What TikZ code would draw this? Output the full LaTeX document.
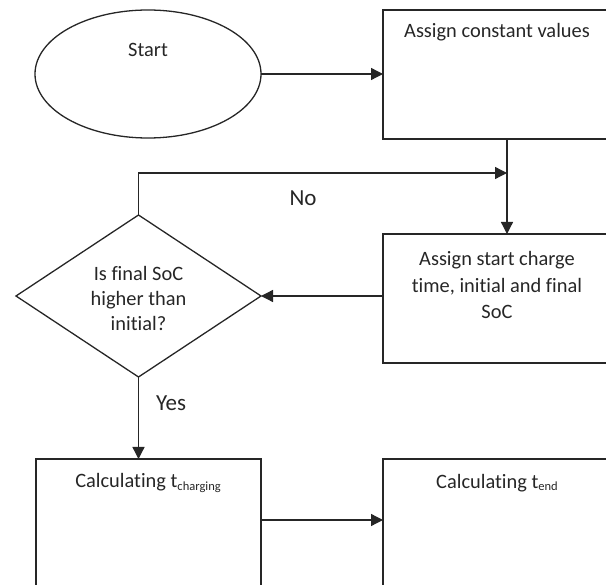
\documentclass[tikz,border=0pt]{standalone}
\usepackage{fontspec}
\setmainfont[RawFeature={-liga;-clig;-dlig}]{Carlito}
\usetikzlibrary{shapes.geometric,arrows.meta,calc}
\begin{document}
\begin{tikzpicture}[x=1pt,y=-1pt,
  line width=1.3pt,
  every node/.style={inner sep=0pt, outer sep=0pt},
  shapebox/.style={draw=black!85, rectangle, minimum width=228pt, minimum height=129pt, anchor=north west},
  txt/.style={font=\fontsize{20.4}{25}\selectfont, text=black!85, align=center},
  lbl/.style={font=\fontsize{23}{27}\selectfont, text=black!85},
  arr/.style={draw=black!85, -{Triangle[length=12pt,width=12pt]}}
]
\useasboundingbox (0,0) rectangle (606,585);
\clip (0,0) rectangle (606,585);
% shapes
\node[draw=black!85, ellipse, minimum width=226pt, minimum height=128pt] (start) at (148,74) {};
\node[shapebox] (b1) at (383,10) {};
\node[shapebox] (b2) at (383,234) {};
\node[draw=black!85, diamond, minimum width=245pt, minimum height=162pt] (dia) at (138.5,296) {};
\node[shapebox, minimum width=225pt, minimum height=170pt] (b3) at (36,459) {};
\node[shapebox, minimum height=170pt] (b4) at (383,459) {};
% texts
\node[txt] (tstart) at (148,50) {Start};
\node[txt] (tb1) at (497,32) {Assign constant values};
\node[txt, font=\fontsize{20.4}{26.7}\selectfont] (tb2) at (497,285) {Assign start charge\\time, initial and final\\SoC};
\node[txt] (tdia) at (138.5,298) {Is final SoC\\higher than\\initial?};
\node[txt] (tb3) at (148,483) {Calculating t{\fontsize{12.5}{14}\selectfont\raisebox{-2.5pt}{charging}}};
\node[txt] (tb4) at (497,483) {Calculating t{\fontsize{12.5}{14}\selectfont\raisebox{-2.5pt}{end}}};
\node[lbl] (no) at (303,198) {No};
\node[lbl] (yes) at (171,403) {Yes};
% helper coordinates
\coordinate (m) at (507,173);
\coordinate (h) at (300,520);
% connectors
\draw[arr] (start.east) -- (start.east -| b1.west);
\draw[arr] (b1.south -| m) -- (b2.north -| m);
\draw[arr] (dia.north) |- (m);
\draw[arr] (b2.west |- dia.east) -- (dia.east);
\draw[arr] (dia.south) -- (dia.south |- b3.north);
\draw[arr] (b3.east |- h) -- (b4.west |- h);
\end{tikzpicture}
\end{document}
